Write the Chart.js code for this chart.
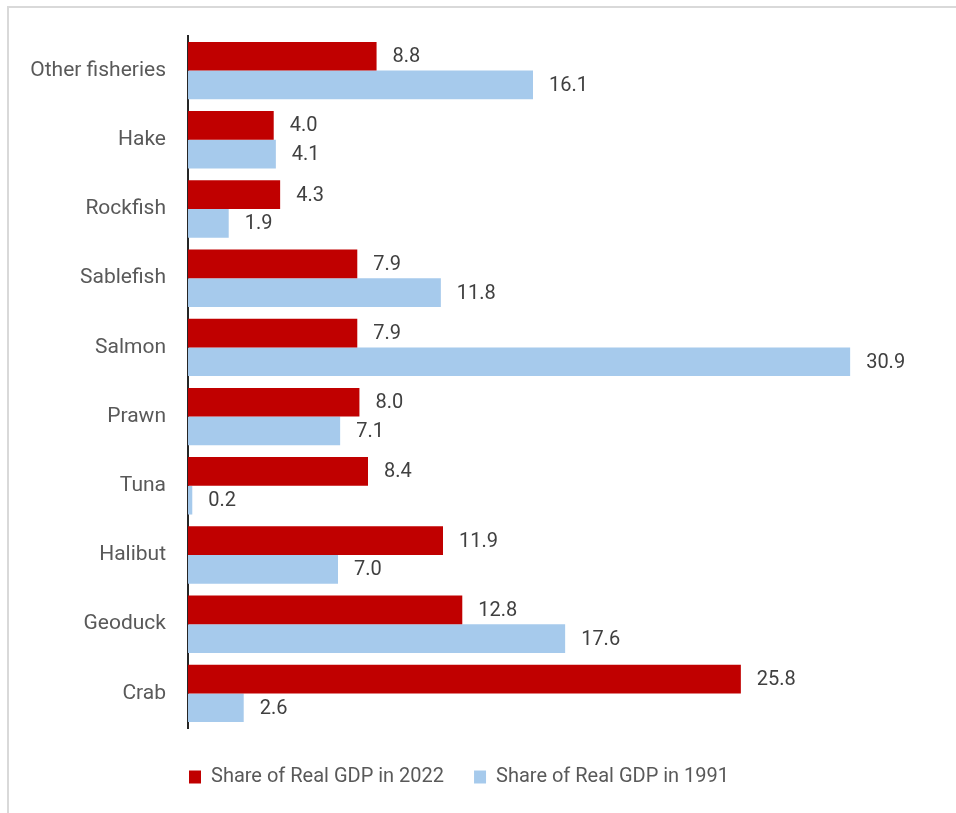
<!DOCTYPE html>
<html>
<head>
<meta charset="utf-8">
<script src="https://cdn.jsdelivr.net/npm/chart.js@4.4.1/dist/chart.umd.min.js"></script>
<style>
    html, body { margin: 0; padding: 0; background: #ffffff; }
    #wrap { position: relative; width: 956px; height: 813px; overflow: hidden; }
    #frame {
        position: absolute; left: 7px; top: 6px; width: 1000px; height: 900px;
        border-top: 2px solid #d9d9d9; border-left: 2px solid #d9d9d9;
    }
    #fishChart { position: absolute; left: 0; top: 0; }
</style>
</head>
<body>
<div id="wrap">
    <div id="frame"></div>
    <canvas id="fishChart" width="956" height="813"></canvas>
</div>
<script>
const categories = ['Other fisheries', 'Hake', 'Rockfish', 'Sablefish', 'Salmon', 'Prawn', 'Tuna', 'Halibut', 'Geoduck', 'Crab'];
const share2022 = [8.8, 4.0, 4.3, 7.9, 7.9, 8.0, 8.4, 11.9, 12.8, 25.8];
const share1991 = [16.1, 4.1, 1.9, 11.8, 30.9, 7.1, 0.2, 7.0, 17.6, 2.6];
const seriesNames = ['Share of Real GDP in 2022', 'Share of Real GDP in 1991'];

const FONT = 'Roboto, "Liberation Sans", sans-serif';

// value text to the right of each bar
const barValues = {
    id: 'barValues',
    afterDatasetsDraw(chart) {
        const ctx = chart.ctx;
        ctx.save();
        ctx.font = '20px ' + FONT;
        ctx.fillStyle = '#404040';
        ctx.textAlign = 'left';
        ctx.textBaseline = 'middle';
        chart.data.datasets.forEach((ds, i) => {
            chart.getDatasetMeta(i).data.forEach((bar, j) => {
                ctx.fillText(ds.data[j].toFixed(1), bar.x + 16, bar.y + 1);
            });
        });
        ctx.restore();
    }
};

// move the legend row under the bars, starting near the axis
const legendPlace = {
    id: 'legendPlace',
    afterLayout(chart) {
        const lg = chart.legend;
        if (!lg || !lg.lineWidths) return;
        const pad = lg.options.labels.padding;
        const startX = (lg.left + pad + lg.right - lg.lineWidths[0]) / 2;
        const dx = 189 - startX;
        const dy = 777 - (lg.top + pad + 10);
        lg.left += dx; lg.right += dx;
        lg.top += dy; lg.bottom += dy;
    }
};

new Chart(document.getElementById('fishChart'), {
    type: 'bar',
    data: {
        labels: categories,
        datasets: [
            {
                label: seriesNames[0],
                data: share2022,
                backgroundColor: '#C00000',
                categoryPercentage: 0.83,
                barPercentage: 1.0
            },
            {
                label: seriesNames[1],
                data: share1991,
                backgroundColor: '#A6CAEC',
                categoryPercentage: 0.83,
                barPercentage: 1.0
            }
        ]
    },
    options: {
        indexAxis: 'y',
        responsive: false,
        animation: false,
        layout: { padding: { top: 36, right: 18, bottom: 25, left: 0 } },
        scales: {
            x: {
                display: false,
                min: 0,
                max: 35
            },
            y: {
                afterFit: (scale) => { scale.width = 188; },
                grid: { display: false },
                border: { display: true, color: '#262626', width: 2 },
                ticks: {
                    padding: 14,
                    color: '#595959',
                    font: { size: 21, family: FONT }
                }
            }
        },
        plugins: {
            tooltip: { enabled: false },
            legend: {
                position: 'bottom',
                labels: {
                    boxWidth: 12,
                    boxHeight: 13,
                    padding: 30,
                    color: '#595959',
                    font: { size: 20, family: FONT, lineHeight: 1 }
                }
            }
        }
    },
    plugins: [barValues, legendPlace]
});
</script>
</body>
</html>
